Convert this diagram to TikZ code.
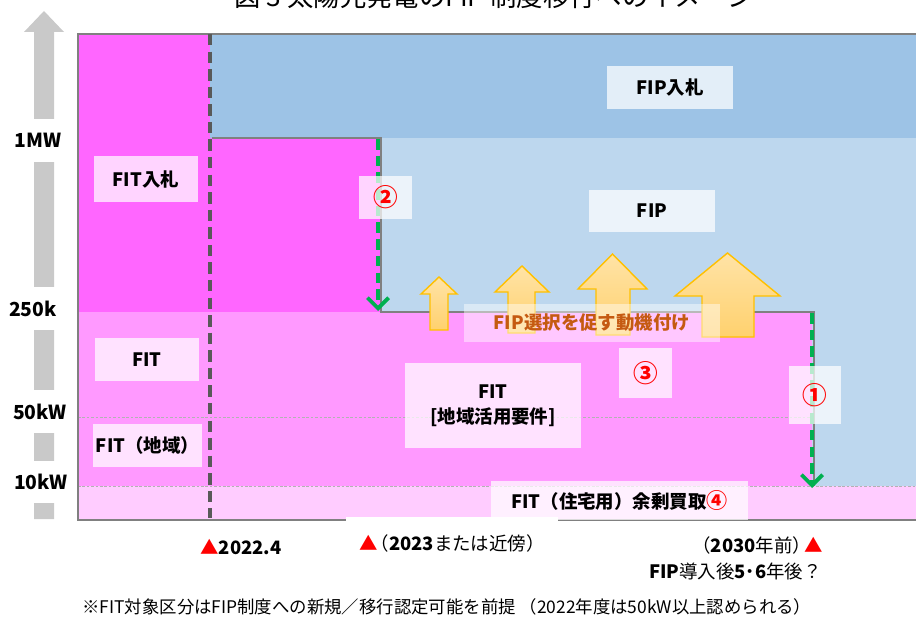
\documentclass[tikz,border=0pt]{standalone}
\usepackage{fontspec}
\setmainfont{Noto Sans CJK JP}
\usetikzlibrary{positioning,arrows.meta,calc}

\definecolor{fitbid}{HTML}{FF66FF}
\definecolor{fitmid}{HTML}{FF99FF}
\definecolor{fitlow}{HTML}{FFCCFF}
\definecolor{fipbid}{HTML}{9DC3E6}
\definecolor{fipmid}{HTML}{BDD7EE}
\definecolor{framegray}{HTML}{808080}
\definecolor{cutgray}{HTML}{595959}
\definecolor{movegreen}{HTML}{00B050}
\definecolor{pushtop}{HTML}{FFE3A6}
\definecolor{pushbot}{HTML}{FFD16E}
\definecolor{pushline}{HTML}{FFC000}
\definecolor{pushtext}{HTML}{C55A11}
\definecolor{axisgray}{HTML}{C9C9C9}

\begin{document}
\begin{tikzpicture}[
  x=0.02cm, y=-0.02cm,
  font=\bfseries\fontsize{10.5}{14}\selectfont,
  tagbox/.style={fill=white, fill opacity=0.72, text opacity=1, inner sep=0pt, align=center},
  numbox/.style={tagbox, text=red, font=\bfseries\fontsize{14}{16}\selectfont},
  axislbl/.style={fill=white, inner sep=0pt, minimum height=0.86cm, font=\bfseries\fontsize{11}{14}\selectfont},
  frameline/.style={framegray, line width=1.2pt},
  kwline/.style={gray!60, line width=0.5pt, dash pattern=on 1.5pt off 1pt},
  cutline/.style={cutgray, line width=2.2pt, dash pattern=on 6.5pt off 3.5pt},
  moveline/.style={movegreen, line width=2.2pt, dash pattern=on 6pt off 3.5pt,
    -{Straight Barb[length=6pt,width=12pt,line width=2.2pt]}},
  pusharrow/.style={draw=pushline, line width=0.8pt, top color=pushtop, bottom color=pushbot},
  tick/.style={inner sep=0pt},
]
\useasboundingbox (0,0) rectangle (916,618);

% title (cut at the top edge)
\node[anchor=base, font=\fontsize{15}{17}\selectfont] (title) at (494,7) {図 3 太陽光発電のFIP 制度移行へのイメージ};

% capacity axis
\fill[axisgray] (34,519) -- (34,32) -- (24,32) -- (44,11) -- (64,32) -- (54,32) -- (54,519) -- cycle;
\node[axislbl] (mw1)  at (38,140.5) {1MW};
\node[axislbl] (kw250) at (33,308.5) {250k};
\node[axislbl] (kw50) at (40,411.5) {50kW};
\node[axislbl] (kw10) at (41,482) {10kW};

% regions
\fill[fipmid] (380,138) rectangle (916,486);
\fill[fitmid] (78,312) rectangle (812,486);
\fill[fitlow] (78,486) rectangle (916,520);
\fill[fitbid] (78,34) rectangle (380,312);
\fill[fipbid] (210,34) rectangle (916,138);

% borders
\draw[kwline] (78,417) -- (812,417);
\draw[kwline] (78,486) -- (916,486);
\draw[frameline] (212,138) -- (381,138) -- (381,312) -- (814,312) -- (814,486);
\draw[frameline] (916,34) -- (78,34) -- (78,520) -- (916,520);
\draw[cutline] (210,34) -- (210,518);

% push towards FIP
\foreach \hl/\sl/\sr/\hr/\tip/\hb/\bot in {421/430/448/457/277/294/330, 495/508/535/549/266/292/333,
    578/596/630/647/254/289/335, 675/702/754/780/253/296/337}
  \draw[pusharrow] (\sl,\bot) -- (\sl,\hb) -- (\hl,\hb) -- ({(\hl+\hr)/2},\tip) -- (\hr,\hb) -- (\sr,\hb) -- (\sr,\bot) -- cycle;

% moves into FIP
\coordinate (in2a) at (378,139);
\coordinate (in2b) at (378,311);
\coordinate (in1a) at (812,313);
\coordinate (in1b) at (812,488);
\draw[moveline] (in2a) -- (in2b);
\draw[moveline] (in1a) -- (in1b);

% labels
\node[tagbox, minimum width=2.08cm, minimum height=0.94cm] (bidfit) at (146,179) {FIT入札};
\node[tagbox, minimum width=2.52cm, minimum height=0.86cm] (bidfip) at (670,87.5) {FIP入札};
\node[tagbox, minimum width=2.52cm, minimum height=0.84cm] (fip) at (652,211) {FIP};
\node[tagbox, minimum width=2.08cm, minimum height=0.86cm] (fit) at (147,359.5) {FIT};
\node[tagbox, minimum width=2.18cm, minimum height=0.86cm] (fitlocal) at (147.5,445.5) {FIT（地域）};
\node[tagbox, minimum width=3.52cm, minimum height=1.70cm] (fitreq) at (493,405.5) {FIT\\{[地域活用要件]}};
\node[tagbox, minimum width=5.14cm, minimum height=0.78cm] (fithome) at (619.5,500.5) {FIT（住宅用）余剰買取{\color{red}\fontsize{12}{14}\selectfont ④}};
\node[tagbox, fill opacity=0.45, text=pushtext, minimum width=5.12cm, minimum height=0.76cm] (motive) at (592,323) {FIP選択を促す動機付け};
\node[numbox, minimum width=1.06cm, minimum height=0.86cm] (no2) at (385.5,197.5) {②};
\node[numbox, minimum width=1.06cm, minimum height=1.00cm] (no3) at (645.5,373) {③};
\node[numbox, minimum width=1.04cm, minimum height=1.16cm] (no1) at (815,395) {①};

% time marks
\node[tick, anchor=west] (t2022) at (200,547) {{\color{red}▲}2022.4};
\node[tick, fill=white, minimum width=4.24cm, minimum height=1.04cm] (t2023) at (452,543) {{\color{red}▲}\hspace{-4pt}{\mdseries（}2023{\mdseries または近傍）}};
\node[tick, anchor=east] (t2030) at (823,545) {{\mdseries（}2030{\mdseries 年前）}\hspace{-4pt}{\color{red}▲}};
\node[tick, anchor=east] (t2030b) at (822,571) {FIP{\mdseries 導入後}5･6{\mdseries 年後？}};

% note
\node[tick, anchor=west, font=\fontsize{9.9}{11}\selectfont] (note) at (82,607) {※FIT対象区分はFIP制度への新規／移行認定可能を前提 （2022年度は50kW以上認められる）};

\end{tikzpicture}
\end{document}
